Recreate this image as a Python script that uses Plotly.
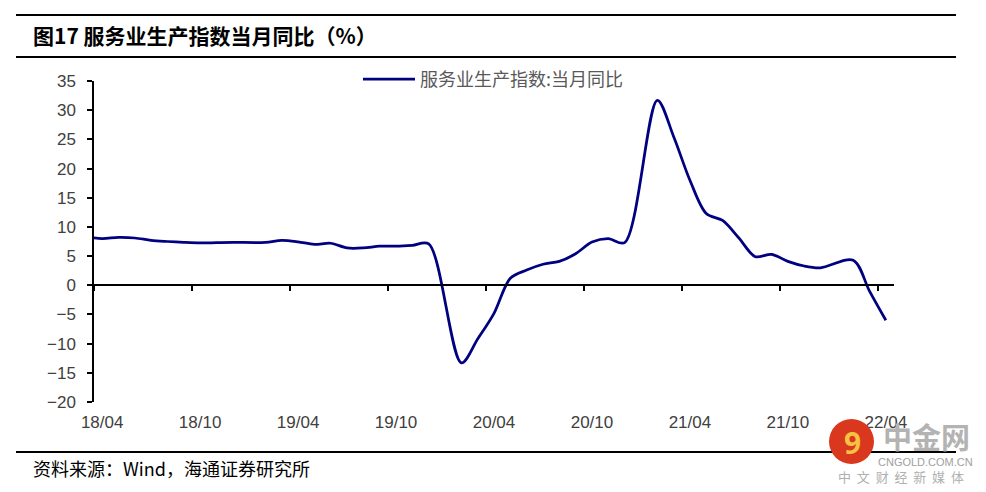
import plotly.graph_objects as go

# ---------------- data ----------------
months = ["18/03", "18/04", "18/05", "18/06", "18/07", "18/08", "18/09", "18/10", "18/11", "18/12",
          "19/02", "19/03", "19/04", "19/05", "19/06", "19/07", "19/08", "19/09", "19/10", "19/11", "19/12",
          "20/02", "20/03", "20/04", "20/05", "20/06", "20/07", "20/08", "20/09", "20/10", "20/11", "20/12",
          "21/02", "21/03", "21/04", "21/05", "21/06", "21/07", "21/08", "21/09", "21/10", "21/11", "21/12",
          "22/02", "22/03", "22/04"]
values = [8.3, 8.0, 8.2, 8.1, 7.7, 7.5, 7.35, 7.25, 7.3, 7.35,
          7.35, 7.7, 7.45, 7.0, 7.2, 6.4, 6.4, 6.7, 6.7, 6.85, 7.1,
          -13.3, -9.2, -4.8, 1.2, 2.6, 3.6, 4.1, 5.4, 7.4, 8.0, 7.3,
          31.7, 25.5, 18.0, 12.3, 11.1, 8.1, 4.9, 5.3, 4.1, 3.3, 3.0,
          4.3, -1.0, -6.0]
tick_labels = ["18/04", "18/10", "19/04", "19/10", "20/04", "20/10", "21/04", "21/10", "22/04"]
series_name = "服务业生产指数:当月同比"
title_text = "图17 服务业生产指数当月同比（%）"
source_text = "资料来源：Wind，海通证券研究所"


def month_index(s):
    yy, mm = s.split("/")
    return (int(yy) - 18) * 12 + (int(mm) - 4)


x_idx = [month_index(m) for m in months]
label_idx = [month_index(m) for m in tick_labels]
n_cat = month_index("22/04") + 1

# ---------------- geometry ----------------
W, H = 986, 492
ML, MR, MT, MB = 94, 92, 81, 90
PW, PH = W - ML - MR, H - MT - MB
Y0, Y1 = -20, 35


def px_x(p):
    return (p - ML) / PW


def px_y(p):
    return (H - MB - p) / PH


fig = go.Figure()
fig.add_trace(go.Scatter(
    x=x_idx, y=values, name=series_name, mode="lines",
    line=dict(color="#000080", width=2.75, shape="spline", smoothing=0.9),
    hoverinfo="skip",
))

axis_font = dict(family="Liberation Sans, Arial", size=17, color="#404040")

fig.update_layout(
    width=W, height=H,
    margin=dict(l=ML, r=MR, t=MT, b=MB, pad=0),
    paper_bgcolor="white", plot_bgcolor="white",
    showlegend=True,
    legend=dict(
        x=px_x(358), y=px_y(61), xanchor="left", yanchor="top",
        bgcolor="rgba(0,0,0,0)", itemwidth=52,
        font=dict(family="Noto Sans CJK SC", size=18, color="#595959"),
    ),
    xaxis=dict(
        range=[-0.5, n_cat - 0.5], anchor="free", position=(0 - Y0) / (Y1 - Y0),
        tickmode="array", tickvals=[i - 0.5 for i in label_idx],
        ticks="outside", ticklen=5, tickwidth=1.5, tickcolor="black",
        showticklabels=False, showline=True, linecolor="black", linewidth=1.5,
        showgrid=False, zeroline=False,
    ),
    xaxis2=dict(
        range=[-0.5, n_cat - 0.5], overlaying="x", anchor="y", side="bottom",
        tickmode="array", tickvals=label_idx, ticktext=tick_labels,
        ticks="", showline=False, showgrid=False, zeroline=False,
        tickfont=axis_font, ticklabelstandoff=8,
    ),
    yaxis=dict(
        range=[Y0, Y1], dtick=5, tick0=0,
        ticks="outside", ticklen=5, tickwidth=1.5, tickcolor="black",
        showline=True, linecolor="black", linewidth=1.5,
        showgrid=False, zeroline=False,
        tickfont=axis_font, ticklabelstandoff=8,
    ),
)

# invisible helper so the label axis is drawn
fig.add_trace(go.Scatter(x=[label_idx[0]], y=[None], xaxis="x2", yaxis="y",
                         showlegend=False, hoverinfo="skip", mode="lines"))

shapes = []
for yy in (15, 57, 452):
    shapes.append(dict(type="line", xref="paper", yref="paper",
                       x0=px_x(16), x1=px_x(956), y0=px_y(yy), y1=px_y(yy),
                       line=dict(color="black", width=2.2), layer="above"))
# watermark circle
shapes.append(dict(type="circle", xref="paper", yref="paper",
                   x0=px_x(829), x1=px_x(874), y0=px_y(464), y1=px_y(419),
                   fillcolor="#d9381e", line=dict(width=0), layer="above"))
fig.update_layout(shapes=shapes)

annotations = [
    dict(text=f"<b>{title_text}</b>", x=px_x(31), y=px_y(35), xref="paper", yref="paper",
         xanchor="left", yanchor="middle", showarrow=False,
         font=dict(family="Noto Sans CJK SC", size=21, color="black")),
    dict(text=source_text, x=px_x(31), y=px_y(468), xref="paper", yref="paper",
         xanchor="left", yanchor="middle", showarrow=False,
         font=dict(family="Noto Sans CJK SC", size=18, color="black")),
    dict(text="<b>9</b>", x=px_x(852), y=px_y(442), xref="paper", yref="paper",
         xanchor="center", yanchor="middle", showarrow=False,
         font=dict(family="Noto Sans", size=30, color="#f5c242")),
    dict(text="<b>中金网</b>", x=px_x(926), y=px_y(436), xref="paper", yref="paper",
         xanchor="center", yanchor="middle", showarrow=False,
         font=dict(family="Noto Sans CJK SC", size=29, color="#b3b3b3")),
    dict(text="CNGOLD.COM.CN", x=px_x(925), y=px_y(462), xref="paper", yref="paper",
         xanchor="center", yanchor="middle", showarrow=False,
         font=dict(family="Liberation Sans", size=11, color="#a0a0a0")),
    dict(text="中&nbsp;&nbsp;文&nbsp;&nbsp;财&nbsp;&nbsp;经&nbsp;&nbsp;新&nbsp;&nbsp;媒&nbsp;&nbsp;体",
         x=px_x(901), y=px_y(476), xref="paper", yref="paper",
         xanchor="center", yanchor="middle", showarrow=False,
         font=dict(family="Noto Sans CJK SC", size=13, color="#b0b0b0")),
]
fig.update_layout(annotations=annotations)

fig.write_html("out.html", config={"displayModeBar": False},
               post_script="document.body.style.margin='0';")
